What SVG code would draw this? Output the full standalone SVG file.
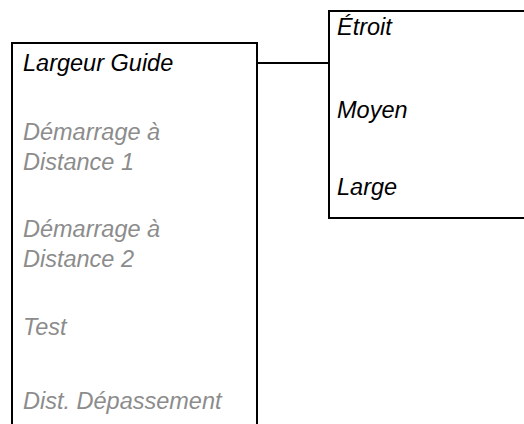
<svg xmlns="http://www.w3.org/2000/svg" width="524" height="424" viewBox="0 0 524 424">
<style>
.box{fill:#fff;stroke:#000;stroke-width:2}
.t{font-family:"Liberation Sans",Arial,sans-serif;font-size:23.5px;font-style:italic}
.on{fill:#000}
.off{fill:#8c8c8c}
</style>
<rect width="524" height="424" fill="#fff"/>
<g id="connectors">
<line x1="257" y1="63" x2="329" y2="63" stroke="#000" stroke-width="2"/>
</g>
<g id="menu">
<rect class="box" x="12" y="43" width="245" height="400"/>
<text class="t on" x="23" y="71">Largeur Guide</text>
<text class="t off" x="23" y="140">Démarrage à</text>
<text class="t off" x="23" y="170">Distance 1</text>
<text class="t off" x="23" y="237">Démarrage à</text>
<text class="t off" x="23" y="267">Distance 2</text>
<text class="t off" x="23" y="335">Test</text>
<text class="t off" x="23" y="409">Dist. Dépassement</text>
</g>
<g id="submenu">
<rect class="box" x="329" y="11" width="220" height="207"/>
<text class="t on" x="337" y="35">Étroit</text>
<text class="t on" x="337" y="118">Moyen</text>
<text class="t on" x="337" y="195">Large</text>
</g>
</svg>
